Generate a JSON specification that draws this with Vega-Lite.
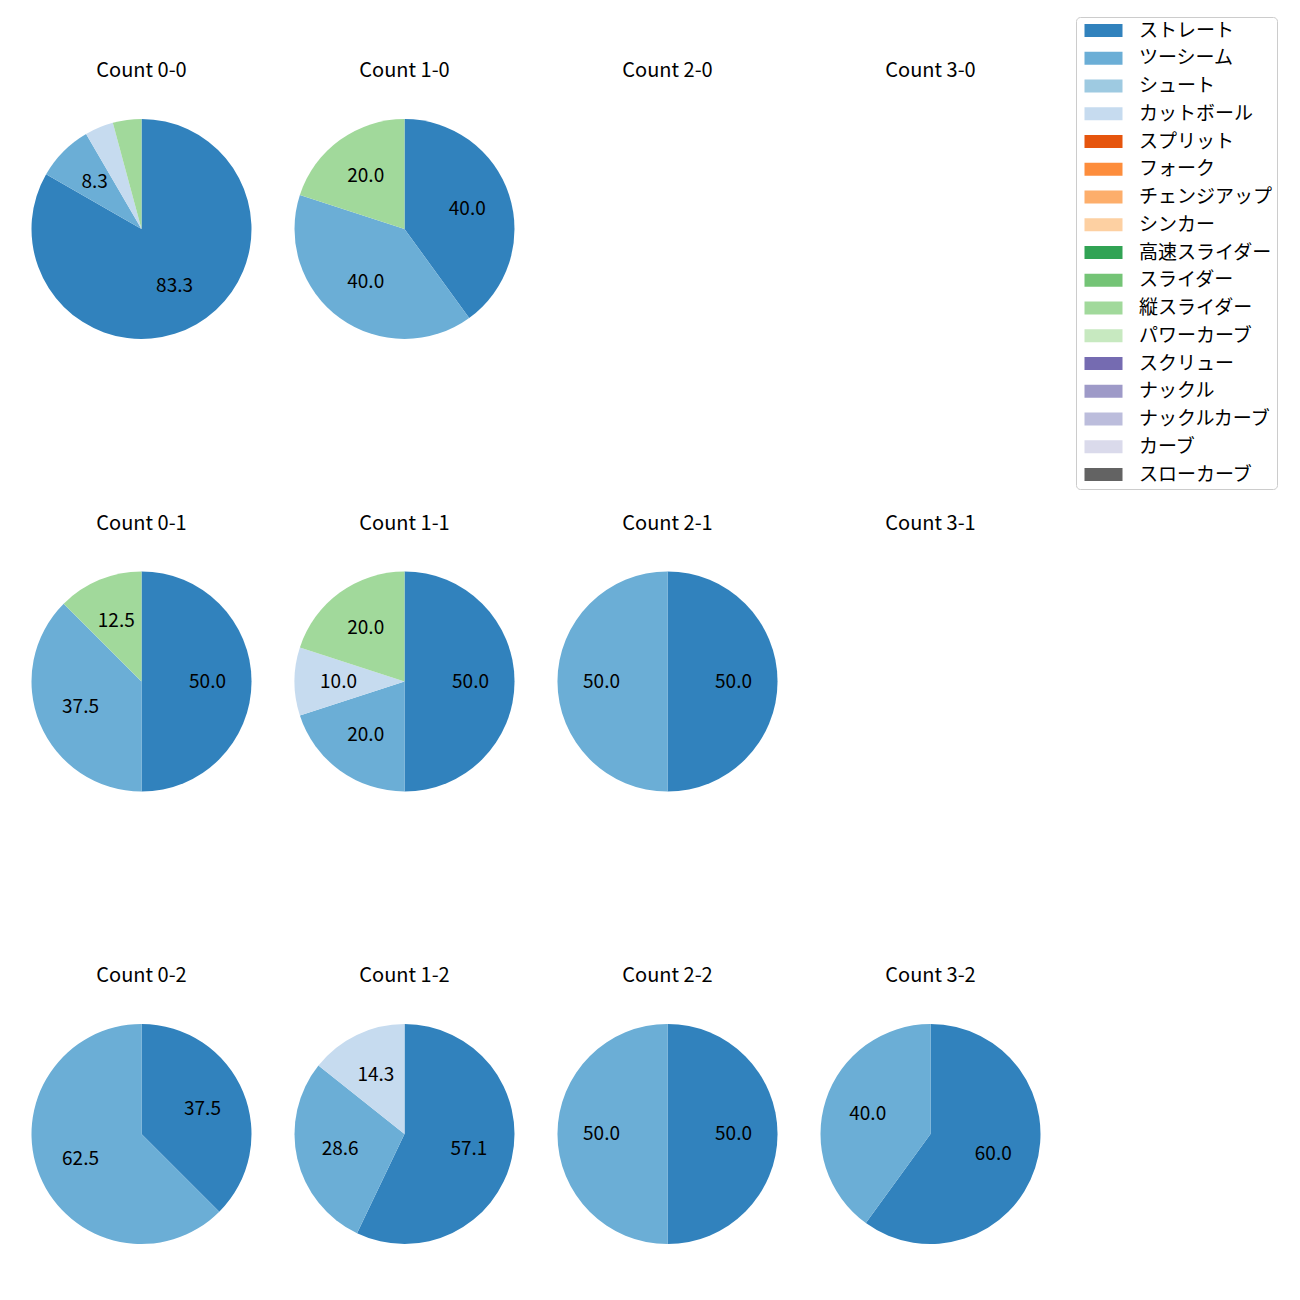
{
  "$schema": "https://vega.github.io/schema/vega-lite/v6.json",
  "padding": {"left": 10, "top": 16, "right": 5, "bottom": 5},
  "background": "white",
  "config": {
    "font": "Noto Sans CJK JP",
    "view": {"stroke": null},
    "legend": {"orient": "none"}
  },
  "data": {
    "values": [
      {"count": "Count 0-0", "pitch": "ストレート", "idx": 1, "pct": 83.3},
      {"count": "Count 0-0", "pitch": "ツーシーム", "idx": 2, "pct": 8.3},
      {"count": "Count 0-0", "pitch": "カットボール", "idx": 4, "pct": 4.2},
      {"count": "Count 0-0", "pitch": "縦スライダー", "idx": 11, "pct": 4.2},
      {"count": "Count 1-0", "pitch": "ストレート", "idx": 1, "pct": 40.0},
      {"count": "Count 1-0", "pitch": "ツーシーム", "idx": 2, "pct": 40.0},
      {"count": "Count 1-0", "pitch": "縦スライダー", "idx": 11, "pct": 20.0},
      {"count": "Count 2-0", "pitch": "ストレート", "idx": 1, "pct": 0},
      {"count": "Count 3-0", "pitch": "ストレート", "idx": 1, "pct": 0},
      {"count": "Count 0-1", "pitch": "ストレート", "idx": 1, "pct": 50.0},
      {"count": "Count 0-1", "pitch": "ツーシーム", "idx": 2, "pct": 37.5},
      {"count": "Count 0-1", "pitch": "縦スライダー", "idx": 11, "pct": 12.5},
      {"count": "Count 1-1", "pitch": "ストレート", "idx": 1, "pct": 50.0},
      {"count": "Count 1-1", "pitch": "ツーシーム", "idx": 2, "pct": 20.0},
      {"count": "Count 1-1", "pitch": "カットボール", "idx": 4, "pct": 10.0},
      {"count": "Count 1-1", "pitch": "縦スライダー", "idx": 11, "pct": 20.0},
      {"count": "Count 2-1", "pitch": "ストレート", "idx": 1, "pct": 50.0},
      {"count": "Count 2-1", "pitch": "ツーシーム", "idx": 2, "pct": 50.0},
      {"count": "Count 3-1", "pitch": "ストレート", "idx": 1, "pct": 0},
      {"count": "Count 0-2", "pitch": "ストレート", "idx": 1, "pct": 37.5},
      {"count": "Count 0-2", "pitch": "ツーシーム", "idx": 2, "pct": 62.5},
      {"count": "Count 1-2", "pitch": "ストレート", "idx": 1, "pct": 57.1},
      {"count": "Count 1-2", "pitch": "ツーシーム", "idx": 2, "pct": 28.6},
      {"count": "Count 1-2", "pitch": "カットボール", "idx": 4, "pct": 14.3},
      {"count": "Count 2-2", "pitch": "ストレート", "idx": 1, "pct": 50.0},
      {"count": "Count 2-2", "pitch": "ツーシーム", "idx": 2, "pct": 50.0},
      {"count": "Count 3-2", "pitch": "ストレート", "idx": 1, "pct": 60.0},
      {"count": "Count 3-2", "pitch": "ツーシーム", "idx": 2, "pct": 40.0}
    ]
  },
  "columns": 4,
  "spacing": {"row": 142.5, "column": 0},
  "facet": {
    "field": "count",
    "type": "nominal",
    "sort": ["Count 0-0", "Count 1-0", "Count 2-0", "Count 3-0", "Count 0-1", "Count 1-1", "Count 2-1", "Count 3-1", "Count 0-2", "Count 1-2", "Count 2-2", "Count 3-2"],
    "header": {"title": null, "labelFontSize": 20, "labelColor": "black", "labelPadding": 6, "labelFont": "Noto Sans CJK JP"}
  },
  "spec": {
    "width": 263,
    "height": 284,
    "layer": [
      {
        "mark": {"type": "arc", "outerRadius": 110},
        "encoding": {
          "theta": {"field": "pct", "type": "quantitative", "stack": true, "scale": {"domain": [0, 100]}},
          "order": {"field": "idx", "type": "quantitative"},
          "color": {
            "field": "pitch",
            "type": "nominal",
            "scale": {
              "domain": ["ストレート", "ツーシーム", "シュート", "カットボール", "スプリット", "フォーク", "チェンジアップ", "シンカー", "高速スライダー", "スライダー", "縦スライダー", "パワーカーブ", "スクリュー", "ナックル", "ナックルカーブ", "カーブ", "スローカーブ"],
              "range": ["#3182bd", "#6baed6", "#9ecae1", "#c6dbef", "#e6550d", "#fd8d3c", "#fdae6b", "#fdd0a2", "#31a354", "#74c476", "#a1d99b", "#c7e9c0", "#756bb1", "#9e9ac8", "#bcbddc", "#dadaeb", "#636363"]
            },
            "legend": {
              "title": null,
              "orient": "none",
              "legendX": 1066,
              "legendY": -70,
              "symbolType": "M-0.833,-1.083H5.5V1.083H-0.833Z",
              "symbolSize": 144,
              "symbolStrokeWidth": 0,
              "symbolOpacity": 1,
              "labelFontSize": 19,
              "labelFont": "Noto Sans CJK JP",
              "labelColor": "black",
              "labelOffset": 40,
              "rowPadding": 7.75,
              "padding": 4,
              "strokeColor": "#cccccc",
              "fillColor": "white",
              "cornerRadius": 4,
              "values": ["ストレート", "ツーシーム", "シュート", "カットボール", "スプリット", "フォーク", "チェンジアップ", "シンカー", "高速スライダー", "スライダー", "縦スライダー", "パワーカーブ", "スクリュー", "ナックル", "ナックルカーブ", "カーブ", "スローカーブ"]
            }
          }
        }
      },
      {
        "mark": {"type": "text", "radius": 66, "fontSize": 19, "color": "black", "font": "Noto Sans CJK JP"},
        "encoding": {
          "theta": {"field": "pct", "type": "quantitative", "stack": true, "scale": {"domain": [0, 100]}},
          "order": {"field": "idx", "type": "quantitative"},
          "text": {"field": "pct", "type": "quantitative", "format": ".1f"},
          "opacity": {"condition": {"test": "datum.pct < 5", "value": 0}, "value": 1}
        }
      }
    ]
  }
}
